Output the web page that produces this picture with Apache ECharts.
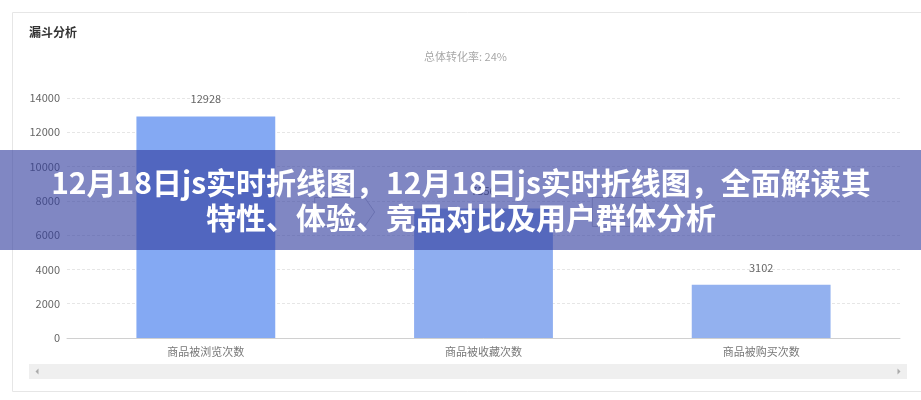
<!DOCTYPE html>
<html>
<head>
<meta charset="utf-8">
<script src="https://cdn.jsdelivr.net/npm/echarts@6/dist/echarts.min.js"></script>
<style>
html,body{margin:0;padding:0;background:#fff;}
#c{width:921px;height:400px;}
</style>
</head>
<body>
<div id="c"></div>
<script>
var categories = ['商品被浏览次数', '商品被收藏次数', '商品被购买次数'];
var values = [12928, 7556, 3102];
var barColors = ['#84a9f3', '#8faef0', '#93b1ef'];
var yTicks = [0, 2000, 4000, 6000, 8000, 10000, 12000, 14000];
var chartTitle = '漏斗分析';
var subTitle = '总体转化率: 24%';
var bannerLines = ['12月18日js实时折线图，12月18日js实时折线图，全面解读其', '特性、体验、竞品对比及用户群体分析'];

var FONT = '"Noto Sans CJK SC", "Noto Sans", sans-serif';
var chart = echarts.init(document.getElementById('c'), null, {renderer: 'canvas'});

var option = {
  animation: false,
  backgroundColor: '#fff',
  textStyle: {fontFamily: FONT},
  title: [
    {text: chartTitle, left: 24, top: 21, textStyle: {fontSize: 12, fontWeight: 'bold', color: '#333', fontFamily: FONT}},
    {text: subTitle, left: 424, top: 51, padding: 0, textStyle: {fontSize: 11, fontWeight: 'normal', color: '#a8a8a8', fontFamily: FONT}}
  ],
  grid: {left: 67, right: 21, top: 98, bottom: 62, containLabel: false},
  xAxis: {
    type: 'category',
    data: categories,
    axisLine: {lineStyle: {color: '#d0d0d0'}},
    axisTick: {alignWithLabel: true, length: 4, lineStyle: {color: '#d0d0d0'}},
    axisLabel: {color: '#777', fontSize: 11, margin: 8, fontFamily: FONT}
  },
  yAxis: {
    type: 'value',
    min: yTicks[0],
    max: yTicks[yTicks.length - 1],
    interval: yTicks[1] - yTicks[0],
    axisLine: {show: false},
    axisTick: {show: false},
    axisLabel: {color: '#666', fontSize: 11, margin: 7, fontFamily: FONT, formatter: function (v) { return String(v); }},
    splitLine: {lineStyle: {color: '#e6e6e6', type: [3, 2]}}
  },
  series: [{
    type: 'bar',
    barWidth: '50%',
    data: values.map(function (v, i) { return {value: v, itemStyle: {color: barColors[i]}}; }),
    label: {show: true, position: 'top', distance: 12, color: '#666', fontSize: 11, fontFamily: FONT}
  }]
};
chart.setOption(option);

function arrowShape(cx, cy) {
  var w = 60, h = 29, tip = 10;
  var l = cx - w / 2, r = cx + w / 2, t = cy - h / 2, b = cy + h / 2;
  return [[l, t], [r - tip, t], [r, cy], [r - tip, b], [l, b]];
}
var p0 = chart.convertToPixel({gridIndex: 0}, [0, 0]);
var p1 = chart.convertToPixel({gridIndex: 0}, [1, 0]);
var p2 = chart.convertToPixel({gridIndex: 0}, [2, 0]);
var arrowY = 212;

var graphics = [
  {type: 'rect', z: -1, shape: {x: 12.5, y: 12.5, width: 920, height: 379}, style: {fill: 'none', stroke: '#e6e6e6', lineWidth: 1}},
  {type: 'polygon', z: 5, shape: {points: arrowShape((p0[0] + p1[0]) / 2, arrowY)}, style: {fill: '#f6f6f6', stroke: '#c4c4cc', lineWidth: 1}},
  {type: 'polygon', z: 5, shape: {points: arrowShape((p1[0] + p2[0]) / 2, arrowY)}, style: {fill: '#f6f6f6', stroke: '#c4c4cc', lineWidth: 1}},
  {type: 'rect', z: 5, shape: {x: 29, y: 364, width: 878, height: 15}, style: {fill: '#efefef'}},
  {type: 'polygon', z: 6, shape: {points: [[38.5, 368.5], [38.5, 374.5], [35.5, 371.5]]}, style: {fill: '#aaa'}},
  {type: 'polygon', z: 6, shape: {points: [[897.5, 368.5], [897.5, 374.5], [900.5, 371.5]]}, style: {fill: '#aaa'}},
  {type: 'rect', z: 100, shape: {x: 0, y: 150, width: 921, height: 100}, style: {fill: 'rgba(50,62,158,0.62)'}},
  {type: 'text', z: 101, x: 461, y: 183, style: {text: bannerLines[0], fill: '#fff', font: 'bold 30px ' + FONT, textAlign: 'center', textVerticalAlign: 'middle'}},
  {type: 'text', z: 101, x: 461, y: 218, style: {text: bannerLines[1], fill: '#fff', font: 'bold 30px ' + FONT, textAlign: 'center', textVerticalAlign: 'middle'}}
];
chart.setOption({graphic: graphics});
</script>
</body>
</html>
